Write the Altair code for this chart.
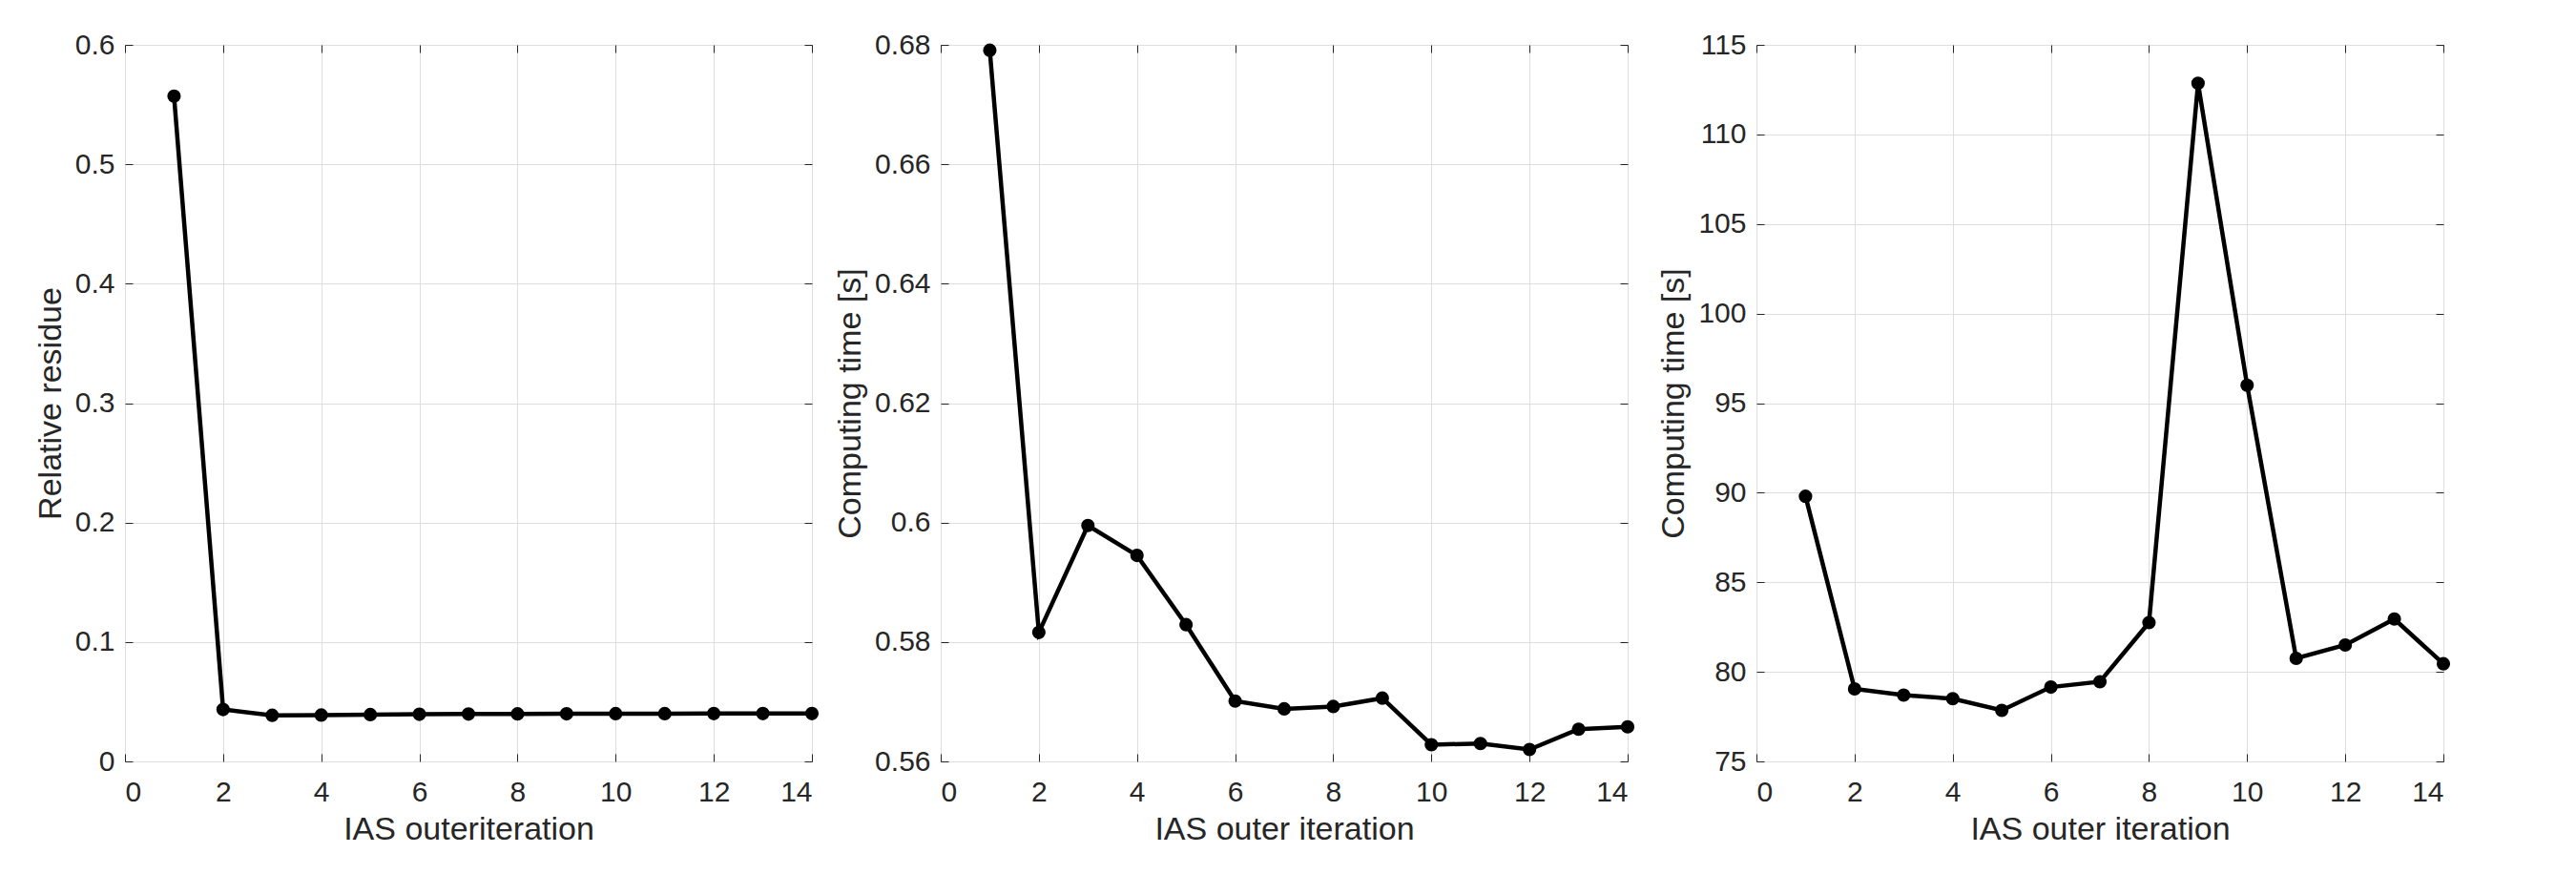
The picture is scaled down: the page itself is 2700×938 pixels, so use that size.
import altair as alt
import pandas as pd

ITER = list(range(1, 15))
RESIDUE = [0.5570, 0.0435, 0.0386, 0.0388, 0.0392, 0.0395, 0.0397, 0.0398,
           0.0399, 0.0400, 0.0400, 0.0401, 0.0401, 0.0401]
TIME_SMALL = [0.6791, 0.5816, 0.5995, 0.5945, 0.5829, 0.5701, 0.5688, 0.5692,
              0.5706, 0.5628, 0.5630, 0.5620, 0.5654, 0.5658]
TIME_LARGE = [89.8, 79.05, 78.7, 78.5, 77.85, 79.15, 79.45, 82.75,
              112.85, 96.0, 80.75, 81.5, 82.95, 80.45]

X_TICKS = [0, 2, 4, 6, 8, 10, 12, 14]
Y1_TICKS = [0, 0.1, 0.2, 0.3, 0.4, 0.5, 0.6]
Y2_TICKS = [0.56, 0.58, 0.60, 0.62, 0.64, 0.66, 0.68]
Y3_TICKS = [75, 80, 85, 90, 95, 100, 105, 110, 115]

X_TITLES = ["IAS outeriteration", "IAS outer iteration", "IAS outer iteration"]
Y_TITLES = ["Relative residue", "Computing time [s]", "Computing time [s]"]

FONT = "Liberation Sans"
INK = "#262626"


def panel(values, yticks, xtitle, ytitle):
    df = pd.DataFrame({"it": ITER, "v": values})
    xs = alt.Scale(domain=[X_TICKS[0], X_TICKS[-1]], nice=False, zero=False)
    ys = alt.Scale(domain=[yticks[0], yticks[-1]], nice=False, zero=False)
    main_x = alt.Axis(orient="bottom", values=X_TICKS, title=xtitle, grid=True,
                      domain=False, tickSize=8, offset=-8, labelPadding=17,
                      titlePadding=7, format="~g")
    main_y = alt.Axis(orient="left", values=yticks, title=ytitle, grid=True,
                      domain=False, tickSize=8, offset=-8, labelPadding=11,
                      titlePadding=8, format="~g")
    top_x = alt.Axis(orient="top", values=X_TICKS, title=None, labels=False,
                     grid=False, domain=False, tickSize=8, offset=-8)
    right_y = alt.Axis(orient="right", values=yticks, title=None, labels=False,
                       grid=False, domain=False, tickSize=8, offset=-8)
    line = alt.Chart(df).mark_line(color="black", strokeWidth=4.5).encode(
        x=alt.X("it:Q", scale=xs, axis=main_x),
        y=alt.Y("v:Q", scale=ys, axis=main_y),
    )
    pts = alt.Chart(df).mark_point(filled=True, color="black", size=200,
                                   opacity=1).encode(
        x=alt.X("it:Q", scale=xs, axis=top_x),
        y=alt.Y("v:Q", scale=ys, axis=right_y),
    )
    return alt.layer(line, pts).resolve_axis(
        x="independent", y="independent"
    ).properties(width=720, height=751)


p1 = panel(RESIDUE, Y1_TICKS, X_TITLES[0], Y_TITLES[0])
p2 = panel(TIME_SMALL, Y2_TICKS, X_TITLES[1], Y_TITLES[1])
p3 = panel(TIME_LARGE, Y3_TICKS, X_TITLES[2], Y_TITLES[2])

chart = alt.hconcat(p1, p2, p3, spacing=135, bounds="flush").properties(
    padding={"left": 27, "top": 23, "right": 10, "bottom": 10},
    background="white",
).configure_axis(
    labelFont=FONT, labelFontSize=30, labelColor=INK,
    titleFont=FONT, titleFontSize=34, titleFontWeight="normal", titleColor=INK,
    tickColor=INK, tickWidth=1, gridColor="#dedede", gridWidth=1,
).configure_view(stroke=INK, strokeWidth=1)

chart.save("out.html", embed_options={"renderer": "svg", "actions": False})
